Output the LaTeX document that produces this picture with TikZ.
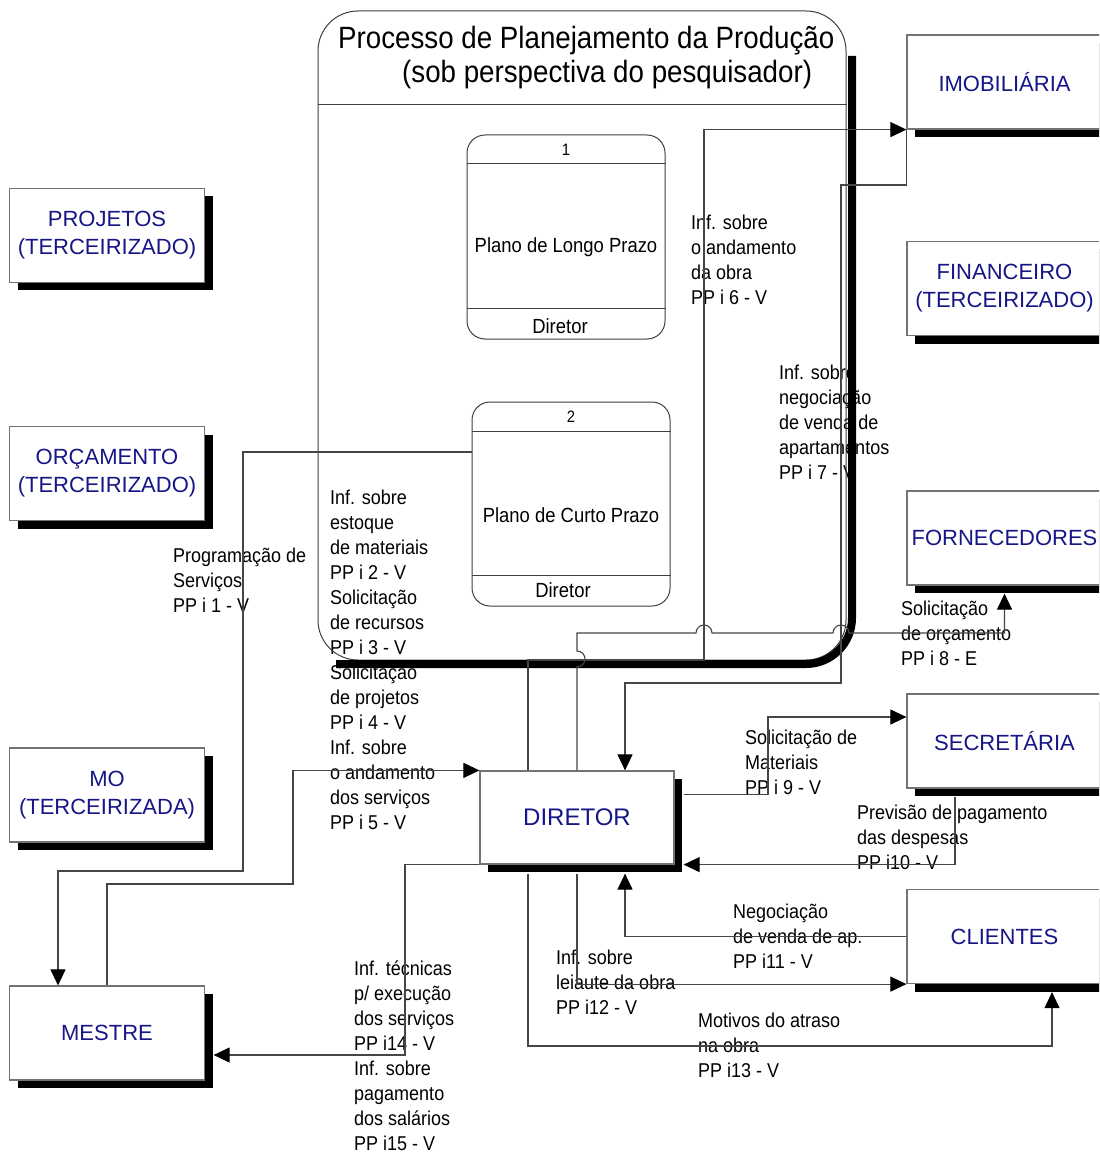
\documentclass[tikz,border=0pt]{standalone}
\usepackage{fontspec}
\setmainfont{Liberation Sans}[FakeStretch=0.9]
\newfontfamily\entfont{Liberation Sans}
\usetikzlibrary{arrows.meta,calc,shadows}
\definecolor{entblue}{RGB}{22,22,135}
\definecolor{wire}{RGB}{70,70,70}
\tikzset{
  flow/.style={draw=wire, line width=1.1pt,
    -{Triangle[length=16pt,width=15pt,color=black]}},
  entity/.style={draw=black!55, line width=1.2pt, fill=white,
    minimum width=195pt, minimum height=94pt, inner sep=0pt, align=center,
    text=entblue, font=\entfont\fontsize{22}{28}\selectfont,
    drop shadow={shadow xshift=8pt, shadow yshift=-8pt, opacity=1, fill=black}},
  procbox/.style={draw=black!75, line width=1pt, rounded corners=18pt,
    minimum width=198pt, minimum height=204pt, inner sep=0pt},
  proctext/.style={inner sep=0pt, font=\fontsize{20.5}{24}\selectfont},
  flowlabel/.style={anchor=north west, inner sep=0pt, align=left,
    font=\fontsize{20}{25}\selectfont},
}
\begin{document}
\begin{tikzpicture}[x=1pt,y=-1pt]
\fill[white] (0,0) rectangle (1099,1155);
\clip (0,0) rectangle (1099,1155);

% flow labels
\node[flowlabel] (l1) at (173,547.5) {Programação de\\Serviços\\PP i 1 - V};
\node[flowlabel] (l25) at (330,489.5) {Inf. sobre\\estoque\\de materiais\\PP i 2 - V\\Solicitação\\de recursos\\PP i 3 - V\\Solicitação\\de projetos\\PP i 4 - V\\Inf. sobre\\o andamento\\dos serviços\\PP i 5 - V};
\node[flowlabel] (l6) at (691,214.5) {Inf. sobre\\o andamento\\da obra\\PP i 6 - V};
\node[flowlabel] (l7) at (779,364.5) {Inf. sobre\\negociação\\de venda de\\apartamentos\\PP i 7 - V};
\node[flowlabel] (l8) at (901,600.5) {Solicitação\\de orçamento\\PP i 8 - E};
\node[flowlabel] (l9) at (745,729.5) {Solicitação de\\Materiais\\PP i 9 - V};
\node[flowlabel] (l10) at (857,804.5) {Previsão de pagamento\\das despesas\\PP i10 - V};
\node[flowlabel] (l11) at (733,903.5) {Negociação\\de venda de ap.\\PP i11 - V};
\node[flowlabel] (l12) at (556,949.5) {Inf. sobre\\leiaute da obra\\PP i12 - V};
\node[flowlabel] (l13) at (698,1012.5) {Motivos do atraso\\na obra\\PP i13 - V};
\node[flowlabel] (l14) at (354,960.5) {Inf. técnicas\\p/ execução\\dos serviços\\PP i14 - V\\Inf. sobre\\pagamento\\dos salários\\PP i15 - V};

% production planning process frame
\node[draw=black!75, line width=1pt, rounded corners=40pt, minimum width=528pt,
      minimum height=649pt, inner sep=0pt] (pp) at (582,335.5) {};
\node[anchor=west, inner sep=0pt, font=\fontsize{30.8}{34}\selectfont] (ppt1) at (338,41) {Processo de Planejamento da Produção};
\node[anchor=west, inner sep=0pt, font=\fontsize{30.8}{34}\selectfont] (ppt2) at (402,75) {(sob perspectiva do pesquisador)};
\draw[black!75, line width=1pt] (pp.west |- 0,105) -- (pp.east |- 0,105);
\draw[line width=8pt, rounded corners=46pt] (852,56) -- (852,664) -- (336,664);

% processes
\node[procbox] (p1) at (566,237) {};
\draw[black!75, line width=1pt] ($(p1.north west)+(0,29)$) -- ($(p1.north east)+(0,29)$);
\draw[black!75, line width=1pt] ($(p1.south west)+(0,-31)$) -- ($(p1.south east)+(0,-31)$);
\node[proctext, font=\fontsize{16.5}{18}\selectfont] (p1n) at (566,150) {1};
\node[proctext] (p1t) at (566,247) {Plano de Longo Prazo};
\node[proctext] (p1o) at (560,326) {Diretor};

\node[procbox] (p2) at (571,504) {};
\draw[black!75, line width=1pt] ($(p2.north west)+(0,30)$) -- ($(p2.north east)+(0,30)$);
\draw[black!75, line width=1pt] ($(p2.south west)+(0,-31)$) -- ($(p2.south east)+(0,-31)$);
\node[proctext, font=\fontsize{16.5}{18}\selectfont] (p2n) at (571,417) {2};
\node[proctext] (p2t) at (571,515) {Plano de Curto Prazo};
\node[proctext] (p2o) at (563,590) {Diretor};

% external entities
\node[entity] (proj) at (107,235.5) {PROJETOS\\(TERCEIRIZADO)};
\node[entity] (orc) at (107,473.5) {ORÇAMENTO\\(TERCEIRIZADO)};
\node[entity] (mo) at (107,795) {MO\\(TERCEIRIZADA)};
\node[entity] (mestre) at (107,1033) {MESTRE};
\node[entity] (imob) at (1004.5,82) {IMOBILIÁRIA};
\node[entity] (fin) at (1004.5,288.5) {FINANCEIRO\\(TERCEIRIZADO)};
\node[entity] (forn) at (1004.5,538) {FORNECEDORES};
\node[entity] (sec) at (1004.5,741) {SECRETÁRIA};
\node[entity] (cli) at (1004.5,936.5) {CLIENTES};
\node[entity, minimum width=194pt, minimum height=93pt,
      font=\entfont\fontsize{24}{28}\selectfont] (dir) at (577,817.5) {DIRETOR};

% data flows
\draw[flow] (p2.west |- 0,452) -| (243,871) -| (58,0 |- mestre.north);
\draw[flow] (mestre.north) |- (293,884) |- (dir.north west);
\draw[flow] (528,0 |- dir.north) |- (704,660) |- (imob.south west);
\draw[flow] (imob.south west) |- (841,185) |- (625,683) -- (625,0 |- dir.north);
\draw[flow] (577,0 |- dir.north) -- (577,667)
  arc[start angle=90,end angle=-90,radius=8] -- (577,633) -- (696,633)
  arc[start angle=180,end angle=360,radius=8] -- (833,633)
  arc[start angle=180,end angle=360,radius=8] -- (forn.south |- 0,633)
  -- ($(forn.south)+(0,8)$);
\draw[flow] ($(dir.north east)+(9,24)$) -| (768,717) -- (sec.west |- 0,717);
\draw[flow] ($(sec.south)+(-49.5,8)$) |- ($(dir.south east)+(9,0)$);
\draw[flow] (cli.west) -| ($(625,0 |- dir.south)+(0,9)$);
\draw[flow] ($(577,0 |- dir.south)+(0,9)$) |- (cli.south west);
\draw[flow] ($(528,0 |- dir.south)+(0,9)$) |- (1052,1046) -- ($(1052,0 |- cli.south)+(0,8)$);
\draw[flow] (dir.south west) -| (405,1055) -- ($(mestre.east |- 0,1055)+(8.5,0)$);
\end{tikzpicture}
\end{document}
